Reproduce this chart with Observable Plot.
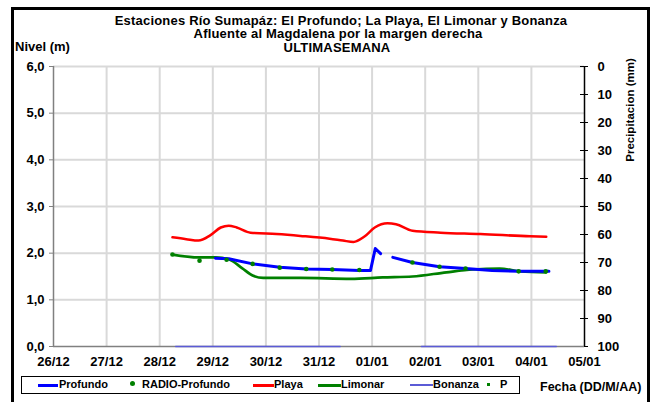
<!DOCTYPE html>
<html>
<head>
<meta charset="utf-8">
<script src="https://cdn.jsdelivr.net/npm/d3@7"></script>
<script src="https://cdn.jsdelivr.net/npm/@observablehq/plot@0.6"></script>
<style>
  html, body { margin: 0; padding: 0; background: #fff; }
  #wrap { position: relative; width: 658px; height: 402px; overflow: hidden; background: #fff;
          font-family: "Liberation Sans", Arial, sans-serif; font-weight: bold; color: #000; }
  #wrap svg { position: absolute; left: 0; top: 0; }
  .t { position: absolute; white-space: nowrap; line-height: 1; }
  .c { transform: translate(-50%, -50%); }
  .ttl { font-size: 13px; letter-spacing: 0.2px; line-height: 13px; }
  #frame { position: absolute; left: 11px; top: 7px; width: 633px; height: 420px;
           border-left: 3px solid #000; border-top: 3px solid #000; border-right: 3px solid #000; }
  #legend { position: absolute; left: 21px; top: 376px; width: 497px; height: 16px;
            border: 1px solid #000; font-size: 11px; }
  .li { position: absolute; top: 1px; }
  .sw { position: absolute; top: 7px; height: 3px; }
</style>
</head>
<body>
<div id="wrap">
  <div id="frame"></div>
  <div id="chart"></div>
  <div class="t c ttl" id="t1" style="left:341px; top:19.5px;">Estaciones Río Sumapáz: El Profundo; La Playa, El Limonar y Bonanza</div>
  <div class="t c ttl" id="t2" style="left:338px; top:33px;">Afluente al Magdalena por la margen derecha</div>
  <div class="t c ttl" id="t3" style="left:337px; top:47px;">ULTIMASEMANA</div>
  <div class="t" id="ylab" style="left:15px; top:40px; font-size:13px;">Nivel (m)</div>
  <div class="t c" id="y2lab" style="left:631px; top:110px; font-size:11.5px; transform: translate(-50%,-50%) rotate(-90deg);">Precipitacion (mm)</div>
  <div class="t" id="xlab" style="left:540px; top:381px; font-size:12.5px;">Fecha (DD/M/AA)</div>
  <div id="legend"></div>
</div>
<script>
// ---- tick labels ----
const xLabels = ["26/12","27/12","28/12","29/12","30/12","31/12","01/01","02/01","03/01","04/01","05/01"];
const nivelTicks = [0, 1, 2, 3, 4, 5, 6];
const precipTicks = [0, 10, 20, 30, 40, 50, 60, 70, 80, 90, 100];

// ---- series (x = days since 26/12 00:00) ----
const playaDia   = [2.24, 2.50, 2.73, 2.95, 3.15, 3.30, 3.45, 3.71, 4.20, 4.65, 5.20, 5.45, 5.65, 5.85, 6.05, 6.29, 6.45, 6.76, 7.29, 8.04, 8.98, 9.28];
const playaNivel = [2.34, 2.30, 2.27, 2.38, 2.55, 2.59, 2.55, 2.44, 2.41, 2.37, 2.31, 2.27, 2.24, 2.35, 2.55, 2.64, 2.62, 2.48, 2.44, 2.41, 2.36, 2.35];

const limonarDia   = [2.24, 2.73, 3.05, 3.30, 3.55, 3.75, 3.95, 4.65, 5.60, 6.20, 6.76, 7.40, 7.90, 8.40, 8.80, 9.28];
const limonarNivel = [1.97, 1.91, 1.91, 1.87, 1.68, 1.52, 1.47, 1.47, 1.45, 1.48, 1.50, 1.59, 1.65, 1.67, 1.61, 1.59];

const profundoDia   = [3.05, 3.30, 3.75, 4.26, 4.76, 5.25, 5.76, 5.97, 6.06, 6.16, 6.25, 6.39, 6.76, 7.27, 7.76, 8.26, 8.76, 9.33];
const profundoNivel = [1.89, 1.88, 1.77, 1.70, 1.66, 1.65, 1.63, 1.63, 2.10, 1.99, null, 1.91, 1.80, 1.71, 1.67, 1.63, 1.61, 1.61];

const radioDia   = [2.24, 2.75, 3.26, 3.75, 4.26, 4.76, 5.25, 5.76, 6.76, 7.27, 7.76, 8.76, 9.27];
const radioNivel = [1.97, 1.84, 1.86, 1.77, 1.69, 1.66, 1.65, 1.64, 1.80, 1.71, 1.67, 1.61, 1.61];

const bonanzaDia   = [2.30, 5.40, 5.41, 6.93, 9.47];
const bonanzaNivel = [0, 0, null, 0, 0];

// ---- colours ----
const cProfundo = "#0000ff", cPlaya = "#ff0000", cLimonar = "#008000", cBonanza = "#5b5bd6", cRadio = "#008000";

const toRows = (xs, ys) => xs.map((x, i) => ({x, y: ys[i]}));
const nivelFromPrecip = p => 6 - p * 0.06;

const chart = Plot.plot({
  width: 658, height: 402,
  marginLeft: 53, marginRight: 74, marginTop: 66, marginBottom: 56,
  x: {domain: [0, 10]},
  y: {domain: [0, 6]},
  style: {fontFamily: '"Liberation Sans", Arial, sans-serif', fontWeight: "bold", fontSize: "13px", color: "#000", background: "transparent"},
  marks: [
    Plot.gridY(nivelTicks.slice(1), {stroke: "#d9d9d9", strokeWidth: 2, strokeOpacity: 1}),
    Plot.gridX(xLabels.map((d, i) => i).slice(1, 10), {stroke: "#d9d9d9", strokeWidth: 2, strokeOpacity: 1}),
    Plot.axisY(nivelTicks, {anchor: "left", tickSize: 4, tickPadding: 5, stroke: "#808080",
      tickFormat: d => d.toFixed(1).replace(".", ","), label: null}),
    Plot.axisX(xLabels.map((d, i) => i), {anchor: "bottom", tickSize: 0, tickPadding: 10,
      tickFormat: d => xLabels[Math.round(d)], label: null}),
    Plot.axisY(precipTicks.map(nivelFromPrecip), {anchor: "right", tickSize: 0, tickPadding: 13,
      tickFormat: d => String(Math.round((6 - d) / 0.06)), label: null}),
    Plot.tickY(precipTicks.map(nivelFromPrecip), {insetLeft: 527, insetRight: -4, stroke: "#000"}),
    Plot.ruleX([0], {stroke: "#808080", strokeWidth: 1.5}),
    Plot.ruleY([0], {stroke: "#808080", strokeWidth: 1.5}),
    Plot.ruleX([10], {stroke: "#000", strokeWidth: 1.5}),
    Plot.line(toRows(bonanzaDia, bonanzaNivel), {x: "x", y: "y", stroke: cBonanza, strokeWidth: 1.5}),
    Plot.line(toRows(playaDia, playaNivel), {x: "x", y: "y", stroke: cPlaya, strokeWidth: 2.5, curve: "monotone-x"}),
    Plot.line(toRows(limonarDia, limonarNivel), {x: "x", y: "y", stroke: cLimonar, strokeWidth: 2.7, curve: "monotone-x"}),
    Plot.line(toRows(profundoDia, profundoNivel), {x: "x", y: "y", stroke: cProfundo, strokeWidth: 3}),
    Plot.dot(toRows(radioDia, radioNivel), {x: "x", y: "y", fill: cRadio, r: 2.3})
  ]
});
document.getElementById("chart").appendChild(chart);

// ---- legend ----
const legend = document.getElementById("legend");
const items = [
  {label: "Profundo", type: "line", color: cProfundo, w: 3, sx: 16, sw: 20, tx: 37},
  {label: "RADIO-Profundo", type: "dot", color: cRadio, sx: 110, tx: 120},
  {label: "Playa", type: "line", color: cPlaya, w: 3, sx: 231, sw: 21, tx: 252},
  {label: "Limonar", type: "line", color: cLimonar, w: 3, sx: 296, sw: 23, tx: 319},
  {label: "Bonanza", type: "line", color: cBonanza, w: 1.5, sx: 388, sw: 23, tx: 411},
  {label: "P", type: "sq", color: cRadio, sx: 466, tx: 478}
];
for (const it of items) {
  if (it.type === "line") {
    const s = document.createElement("div");
    s.className = "sw";
    s.style.left = it.sx + "px"; s.style.width = it.sw + "px";
    s.style.height = it.w + "px"; s.style.top = (8 - it.w / 2) + "px";
    s.style.background = it.color;
    legend.appendChild(s);
  } else if (it.type === "dot") {
    const s = document.createElement("div");
    s.style.cssText = `position:absolute;left:${it.sx - 2.5}px;top:4px;width:5px;height:5px;border-radius:50%;background:${it.color}`;
    legend.appendChild(s);
  } else {
    const s = document.createElement("div");
    s.style.cssText = `position:absolute;left:${it.sx - 1}px;top:6px;width:3px;height:3px;background:${it.color}`;
    legend.appendChild(s);
  }
  const t = document.createElement("div");
  t.className = "li";
  t.style.left = it.tx + "px";
  t.textContent = it.label;
  legend.appendChild(t);
}
</script>
</body>
</html>
